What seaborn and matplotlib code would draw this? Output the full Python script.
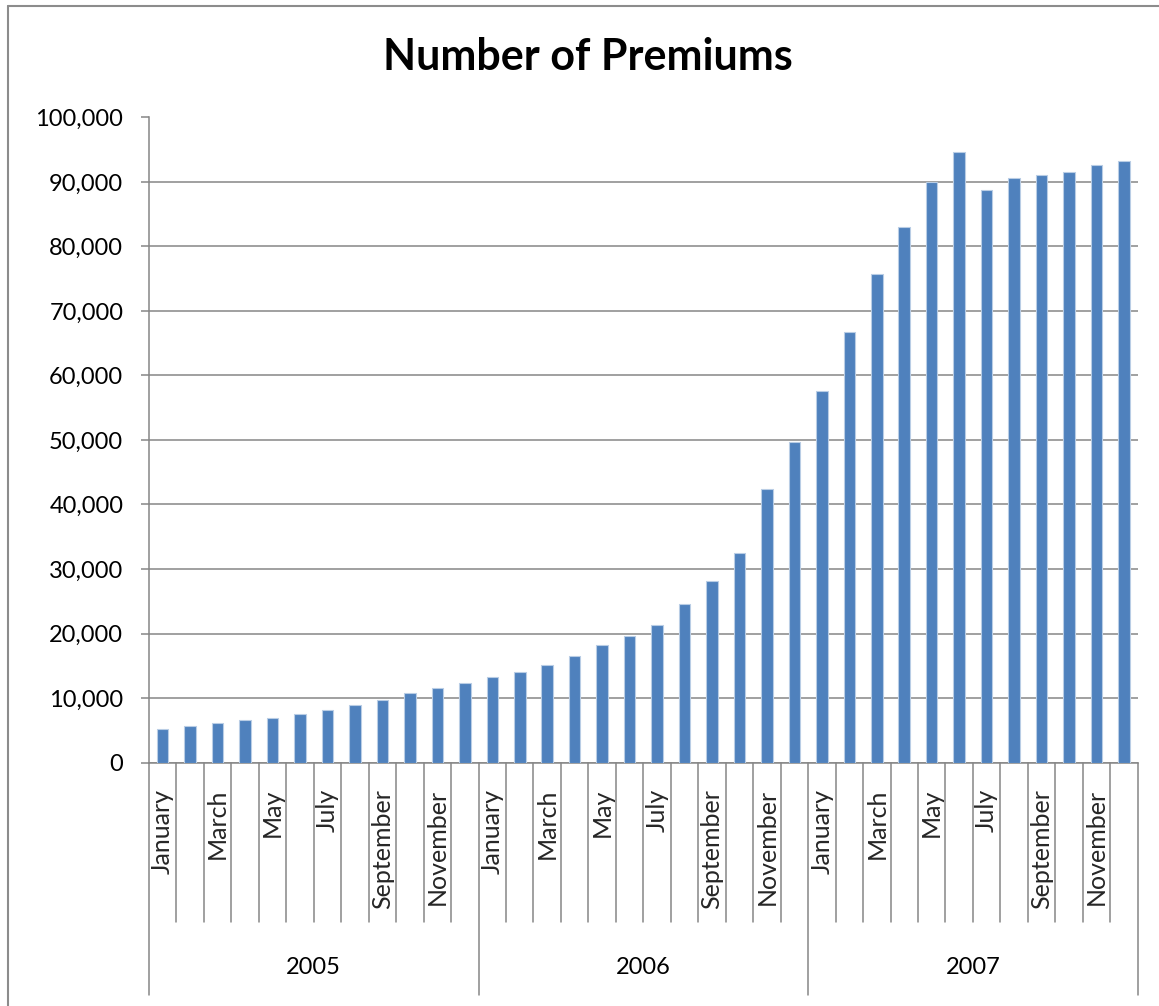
import matplotlib
matplotlib.use("Agg")
import matplotlib.pyplot as plt
import matplotlib.transforms as mtransforms
from matplotlib.ticker import FuncFormatter
import seaborn as sns
import pandas as pd

years = ["2005", "2006", "2007"]
months = ["January", "February", "March", "April", "May", "June", "July",
          "August", "September", "October", "November", "December"]
premiums_2005 = [5200, 5670, 6190, 6600, 6970, 7480, 8200, 8870, 9750, 10730, 11500, 12320]
premiums_2006 = [13290, 14040, 15060, 16460, 18230, 19630, 21270, 24600, 28170, 32410, 42390, 49750]
premiums_2007 = [57620, 66740, 75750, 83040, 89950, 94660, 88820, 90570, 91150, 91610, 92570, 93290]
y_ticks = [0, 10000, 20000, 30000, 40000, 50000, 60000, 70000, 80000, 90000, 100000]

values = premiums_2005 + premiums_2006 + premiums_2007
keys = [f"{y}-{m}" for y in years for m in months]
df = pd.DataFrame({"key": keys, "value": values})

sns.set_style("white")
plt.rcParams["font.family"] = ["Lato", "DejaVu Sans"]

W, H = 1159, 1006
fig = plt.figure(figsize=(W / 100, H / 100), dpi=100)
left, right, top, bottom = 149 / W, 1137.7 / W, 117.5 / H, 762.5 / H
ax = fig.add_axes([left, 1 - bottom, right - left, bottom - top])

grid_c = "#868686"
sns.barplot(data=df, x="key", y="value", order=keys, color="#4F81BD",
            width=0.42, edgecolor="#B9CDE5", linewidth=0.8, saturation=1,
            ax=ax, zorder=3)

ax.set_ylim(0, 100000)
ax.set_xlim(-0.5, len(keys) - 0.5)
ax.set_yticks(y_ticks)
ax.yaxis.set_major_formatter(FuncFormatter(lambda v, p: f"{int(v):,}"))
ax.grid(axis="y", color=grid_c, linewidth=1.1, zorder=0)
ax.set_axisbelow(True)
ax.set_xlabel("")
ax.set_ylabel("")

for s in ["top", "right"]:
    ax.spines[s].set_visible(False)
for s in ["left", "bottom"]:
    ax.spines[s].set_color(grid_c)
    ax.spines[s].set_linewidth(1.1)

ax.tick_params(axis="y", direction="out", length=5.5, width=1.1, color=grid_c,
               labelsize=17, pad=13, left=True, labelcolor="black")

ax.set_xticks(range(len(keys)))
xt_labels = [months[i % 12] if i % 2 == 0 else "" for i in range(len(keys))]
ax.set_xticklabels(xt_labels, rotation=90, fontsize=18, va="top", ha="center")
ax.tick_params(axis="x", length=0, pad=19, bottom=False)

# category separators
trans = mtransforms.blended_transform_factory(ax.transData, fig.transFigure)
y_axis = 1 - bottom
y_month = 1 - 921.7 / H
y_year = 1 - 995 / H
for i in range(len(keys) + 1):
    xpos = i - 0.5
    ylow = y_year if i % 12 == 0 else y_month
    ax.plot([xpos, xpos], [y_axis, ylow], transform=trans, color=grid_c,
            linewidth=1.1, clip_on=False, zorder=1)

for j, y in enumerate(years):
    ax.text(j * 12 + 5.5, 1 - 967 / H, y, transform=trans, ha="center",
            va="center", fontsize=17, color="black")

fig.text(588 / W, 1 - 57 / H, "Number of Premiums", ha="center", va="center",
         fontsize=31, fontweight="bold", color="black")

# outer chart border (left and top)
fig.add_artist(plt.Line2D([8 / W, 8 / W], [0, 1 - 6 / H], transform=fig.transFigure,
                          color="#8c8c8c", linewidth=1.5))
fig.add_artist(plt.Line2D([8 / W, 1], [1 - 6 / H, 1 - 6 / H], transform=fig.transFigure,
                          color="#8c8c8c", linewidth=1.5))

fig.savefig("out.png", dpi=100)
